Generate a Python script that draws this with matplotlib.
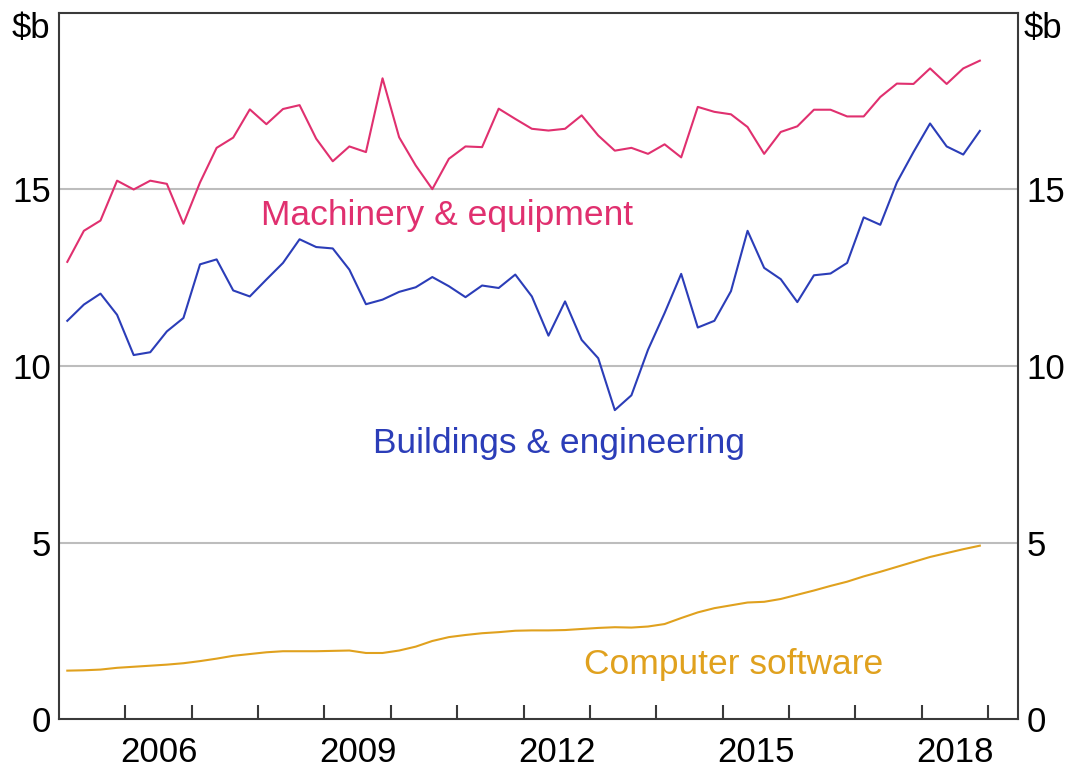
import numpy as np
import matplotlib
matplotlib.use('Agg')
import matplotlib.pyplot as plt

plt.rcParams['font.family'] = ['Liberation Sans', 'DejaVu Sans']

# quarterly, 2005 Q1 to 2018 Q4 ($b)
start_year = 2005
machinery = [12.95, 13.83, 14.12, 15.25, 15.0, 15.25, 15.16, 14.03, 15.2, 16.18,
             16.47, 17.27, 16.85, 17.28, 17.39, 16.44, 15.8, 16.22, 16.06, 18.15,
             16.48, 15.68, 15.01, 15.87, 16.22, 16.2, 17.29, 17.0, 16.72, 16.67,
             16.72, 17.1, 16.53, 16.1, 16.18, 16.01, 16.28, 15.91, 17.34, 17.2,
             17.13, 16.77, 16.01, 16.63, 16.79, 17.26, 17.26, 17.07, 17.07, 17.62,
             18.0, 17.99, 18.43, 17.99, 18.43, 18.65]
buildings = [11.28, 11.74, 12.05, 11.45, 10.31, 10.39, 10.98, 11.36, 12.88, 13.02,
             12.14, 11.97, 12.45, 12.92, 13.59, 13.37, 13.33, 12.73, 11.75, 11.88,
             12.1, 12.23, 12.52, 12.26, 11.95, 12.28, 12.21, 12.59, 11.97, 10.86,
             11.83, 10.74, 10.22, 8.75, 9.17, 10.46, 11.5, 12.61, 11.09, 11.28,
             12.12, 13.83, 12.78, 12.46, 11.81, 12.57, 12.62, 12.92, 14.21, 14.0,
             15.2, 16.06, 16.87, 16.22, 15.99, 16.66]
software = [1.37, 1.38, 1.40, 1.45, 1.48, 1.51, 1.54, 1.58, 1.64, 1.71,
            1.79, 1.84, 1.89, 1.92, 1.92, 1.92, 1.93, 1.94, 1.87, 1.87,
            1.94, 2.05, 2.21, 2.32, 2.38, 2.43, 2.46, 2.50, 2.51, 2.51,
            2.52, 2.55, 2.58, 2.60, 2.59, 2.62, 2.69, 2.86, 3.02, 3.14,
            3.22, 3.30, 3.32, 3.40, 3.52, 3.64, 3.77, 3.89, 4.04, 4.17,
            4.31, 4.45, 4.59, 4.70, 4.81, 4.91]
year_labels = [2006, 2009, 2012, 2015, 2018]

pink = '#E0306F'
blue = '#2B3DB8'
gold = '#E0A11E'
frame = '#3a3a3a'

# mid-quarter positions
x = start_year + 0.125 + 0.25 * np.arange(len(machinery))

fig = plt.figure(figsize=(10.65, 7.71), dpi=100)
ax = fig.add_axes([59/1065, 1 - 719/771, (1018 - 59)/1065, (719 - 13)/771])

for y in [5, 10, 15]:
    ax.axhline(y, color='#bdbdbd', lw=1.5, zorder=1)

ax.plot(x, machinery, color=pink, lw=1.5, zorder=3)
ax.plot(x, buildings, color=blue, lw=1.5, zorder=3)
ax.plot(x, software, color=gold, lw=1.5, zorder=3)

ax.set_xlim(2005.0, 2019.45)
ax.set_ylim(0, 20)

# year ticks at boundaries, labels centred in the year
ax.set_xticks(np.arange(2006, 2020))
ax.set_xticklabels([])
ax.set_xticks([yr + 0.5 for yr in year_labels], minor=True)
ax.set_xticklabels([str(yr) for yr in year_labels], minor=True)
ax.tick_params(axis='x', which='major', direction='in', length=10, width=1.5, color=frame)
ax.tick_params(axis='x', which='minor', length=0, pad=12, labelsize=25)

ax.set_yticks([0, 5, 10, 15])
ax.set_yticklabels(['0', '5', '10', '15'])
ax.tick_params(axis='y', length=0, pad=6, labelsize=25, labelright=True, right=False)

for s in ax.spines.values():
    s.set_linewidth(1.5)
    s.set_color(frame)

ax.text(-0.009, 0.978, '$b', transform=ax.transAxes, ha='right', va='center', fontsize=25)
ax.text(1.006, 0.978, '$b', transform=ax.transAxes, ha='left', va='center', fontsize=25)

ax.text(2010.85, 14.25, 'Machinery & equipment', color=pink, fontsize=25.5, ha='center', va='center')
ax.text(2012.54, 7.8, 'Buildings & engineering', color=blue, fontsize=25.5, ha='center', va='center')
ax.text(2015.17, 1.55, 'Computer software', color=gold, fontsize=25.5, ha='center', va='center')

fig.savefig('out.png', dpi=100)
